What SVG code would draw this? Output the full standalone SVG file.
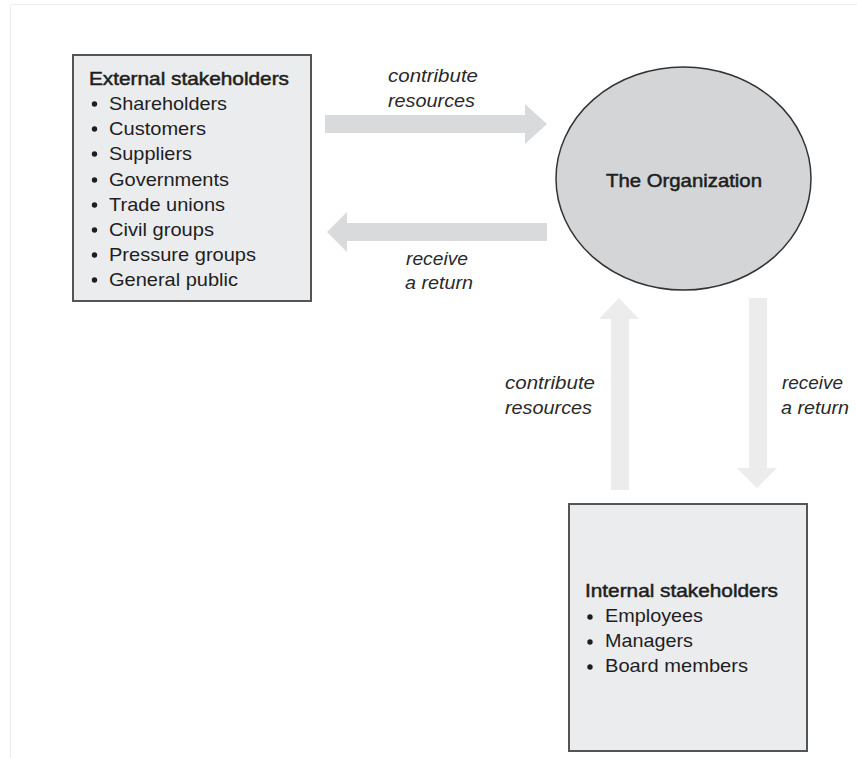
<svg xmlns="http://www.w3.org/2000/svg" width="857" height="758" viewBox="0 0 857 758">
  <style>
    .box { fill: #ebecee; stroke: #555; stroke-width: 2; }
    .org { fill: #d3d5d6; stroke: #333; stroke-width: 1.5; }
    .t { font-family: "Liberation Sans", Arial, sans-serif; font-size: 18.5px; fill: #1e1e1e; }
    .b { stroke: #1e1e1e; stroke-width: 0.5; }
    .i { font-style: italic; fill: #2a2a2a; }
    .dot { fill: #1e1e1e; }
    .flow-h { fill: #d8dadb; }
    .flow-v { fill: #ececec; }
    .frame { stroke: #efefef; stroke-width: 1; fill: none; }
  </style>

  <rect width="857" height="758" fill="#ffffff"/>
  <!-- page frame -->
  <path class="frame" d="M10.5 758 V4.5 H857"/>

  <!-- connectors: broad block arrows -->
  <g id="connectors">
    <polygon class="flow-h" points="325,115 525,115 525,104 547,124 525,144 525,133 325,133"/>
    <polygon class="flow-h" points="547,223 347,223 347,212 327,232 347,252 347,241 547,241"/>
    <polygon class="flow-v" points="611,490 611,319 599,319 619,298 639,319 629,319 629,490"/>
    <polygon class="flow-v" points="749,298 749,468 737,468 757,488 777,468 767,468 767,298"/>

    <text class="t i" x="388" y="82" textLength="90" lengthAdjust="spacingAndGlyphs">contribute</text>
    <text class="t i" x="388" y="107" textLength="87" lengthAdjust="spacingAndGlyphs">resources</text>
    <text class="t i" x="406" y="265" textLength="62" lengthAdjust="spacingAndGlyphs">receive</text>
    <text class="t i" x="405" y="289" textLength="68" lengthAdjust="spacingAndGlyphs">a return</text>

    <text class="t i" x="505" y="389" textLength="90" lengthAdjust="spacingAndGlyphs">contribute</text>
    <text class="t i" x="505" y="414" textLength="87" lengthAdjust="spacingAndGlyphs">resources</text>
    <text class="t i" x="782" y="389" textLength="61" lengthAdjust="spacingAndGlyphs">receive</text>
    <text class="t i" x="781" y="414" textLength="68" lengthAdjust="spacingAndGlyphs">a return</text>
  </g>

  <!-- external stakeholders -->
  <g id="external">
    <rect class="box" x="73" y="55" width="238" height="246"/>
    <text class="t b" x="89" y="85" textLength="200" lengthAdjust="spacingAndGlyphs">External stakeholders</text>
    <g>
      <circle class="dot" cx="94.5" cy="104" r="2.7"/>
      <circle class="dot" cx="94.5" cy="129" r="2.7"/>
      <circle class="dot" cx="94.5" cy="154" r="2.7"/>
      <circle class="dot" cx="94.5" cy="180" r="2.7"/>
      <circle class="dot" cx="94.5" cy="205" r="2.7"/>
      <circle class="dot" cx="94.5" cy="230" r="2.7"/>
      <circle class="dot" cx="94.5" cy="255" r="2.7"/>
      <circle class="dot" cx="94.5" cy="280" r="2.7"/>
    </g>
    <text class="t" x="109" y="110" textLength="118" lengthAdjust="spacingAndGlyphs">Shareholders</text>
    <text class="t" x="109" y="135" textLength="97" lengthAdjust="spacingAndGlyphs">Customers</text>
    <text class="t" x="109" y="160" textLength="83" lengthAdjust="spacingAndGlyphs">Suppliers</text>
    <text class="t" x="109" y="186" textLength="120" lengthAdjust="spacingAndGlyphs">Governments</text>
    <text class="t" x="109" y="211" textLength="116" lengthAdjust="spacingAndGlyphs">Trade unions</text>
    <text class="t" x="109" y="236" textLength="105" lengthAdjust="spacingAndGlyphs">Civil groups</text>
    <text class="t" x="109" y="261" textLength="147" lengthAdjust="spacingAndGlyphs">Pressure groups</text>
    <text class="t" x="109" y="286" textLength="129" lengthAdjust="spacingAndGlyphs">General public</text>
  </g>

  <!-- the organization -->
  <g id="organization">
    <ellipse class="org" cx="683.5" cy="178.5" rx="127.5" ry="111.5"/>
    <text class="t b" x="606" y="187" textLength="156" lengthAdjust="spacingAndGlyphs">The Organization</text>
  </g>

  <!-- internal stakeholders -->
  <g id="internal">
    <rect class="box" x="569" y="504" width="238" height="247"/>
    <text class="t b" x="585" y="597" textLength="193" lengthAdjust="spacingAndGlyphs">Internal stakeholders</text>
    <circle class="dot" cx="590" cy="617" r="2.7"/>
    <circle class="dot" cx="590" cy="642" r="2.7"/>
    <circle class="dot" cx="590" cy="667" r="2.7"/>
    <text class="t" x="605" y="622" textLength="98" lengthAdjust="spacingAndGlyphs">Employees</text>
    <text class="t" x="605" y="647" textLength="88" lengthAdjust="spacingAndGlyphs">Managers</text>
    <text class="t" x="605" y="672" textLength="143" lengthAdjust="spacingAndGlyphs">Board members</text>
  </g>
</svg>
